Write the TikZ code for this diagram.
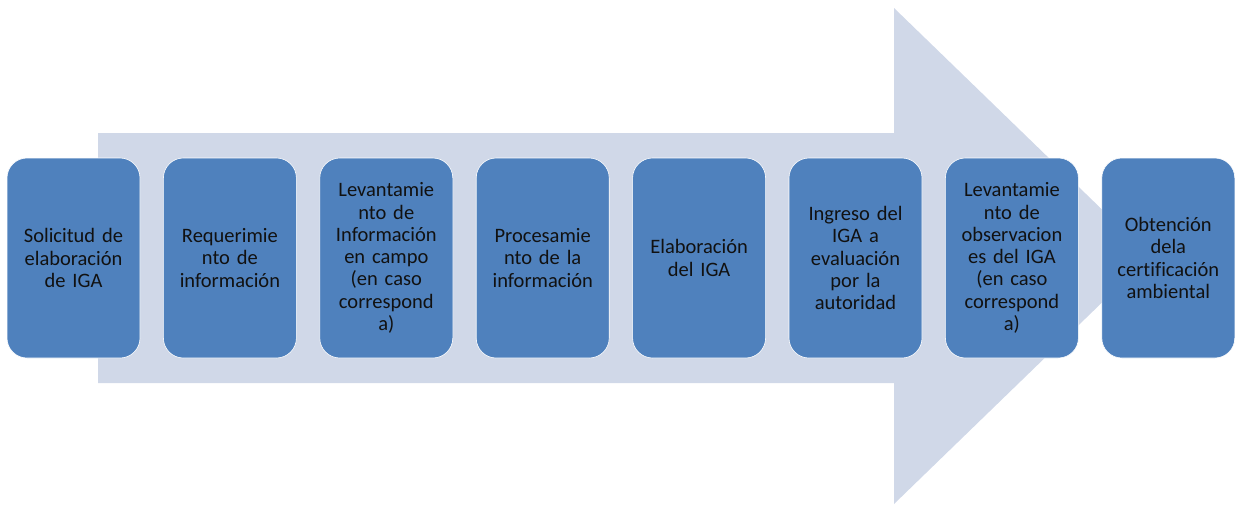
\documentclass[tikz,border=0pt]{standalone}
\usepackage{fontspec}
\setmainfont[Ligatures=NoCommon]{Carlito}
\definecolor{boxblue}{HTML}{4F81BD}
\definecolor{arrowgray}{HTML}{D0D8E8}
\definecolor{txt}{HTML}{111111}
\begin{document}
\begin{tikzpicture}[x=1pt,y=-1pt,
  stepbox/.style={rectangle, rounded corners=20pt, fill=boxblue, draw=white, line width=0.6pt,
    minimum width=133pt, minimum height=200pt, inner sep=0pt,
    align=center, text width=120pt, text=txt,
    font=\fontsize{20.5}{22.3}\selectfont}]
\useasboundingbox (0,0) rectangle (1239,504);
\fill[arrowgray] (98,133) -- (894,133) -- (894,8) -- (1150,256) -- (894,504) -- (894,383) -- (98,383) -- cycle;
\node[stepbox] (s1) at (73.5,258) {Solicitud de\\elaboración\\de IGA};
\node[stepbox] (s2) at (229.9,258) {Requerimie\\nto de\\información};
\node[stepbox] (s3) at (386.3,258) {Levantamie\\nto de\\Información\\en campo\\(en caso\\correspond\\a)};
\node[stepbox] (s4) at (542.7,258) {Procesamie\\nto de la\\información};
\node[stepbox] (s5) at (699.1,258) {Elaboración\\del IGA};
\node[stepbox] (s6) at (855.5,258) {Ingreso del\\IGA a\\evaluación\\por la\\autoridad};
\node[stepbox] (s7) at (1011.9,258) {Levantamie\\nto de\\observacion\\es del IGA\\(en caso\\correspond\\a)};
\node[stepbox] (s8) at (1168.3,258) {Obtención\\dela\\certificación\\ambiental};
\end{tikzpicture}
\end{document}
